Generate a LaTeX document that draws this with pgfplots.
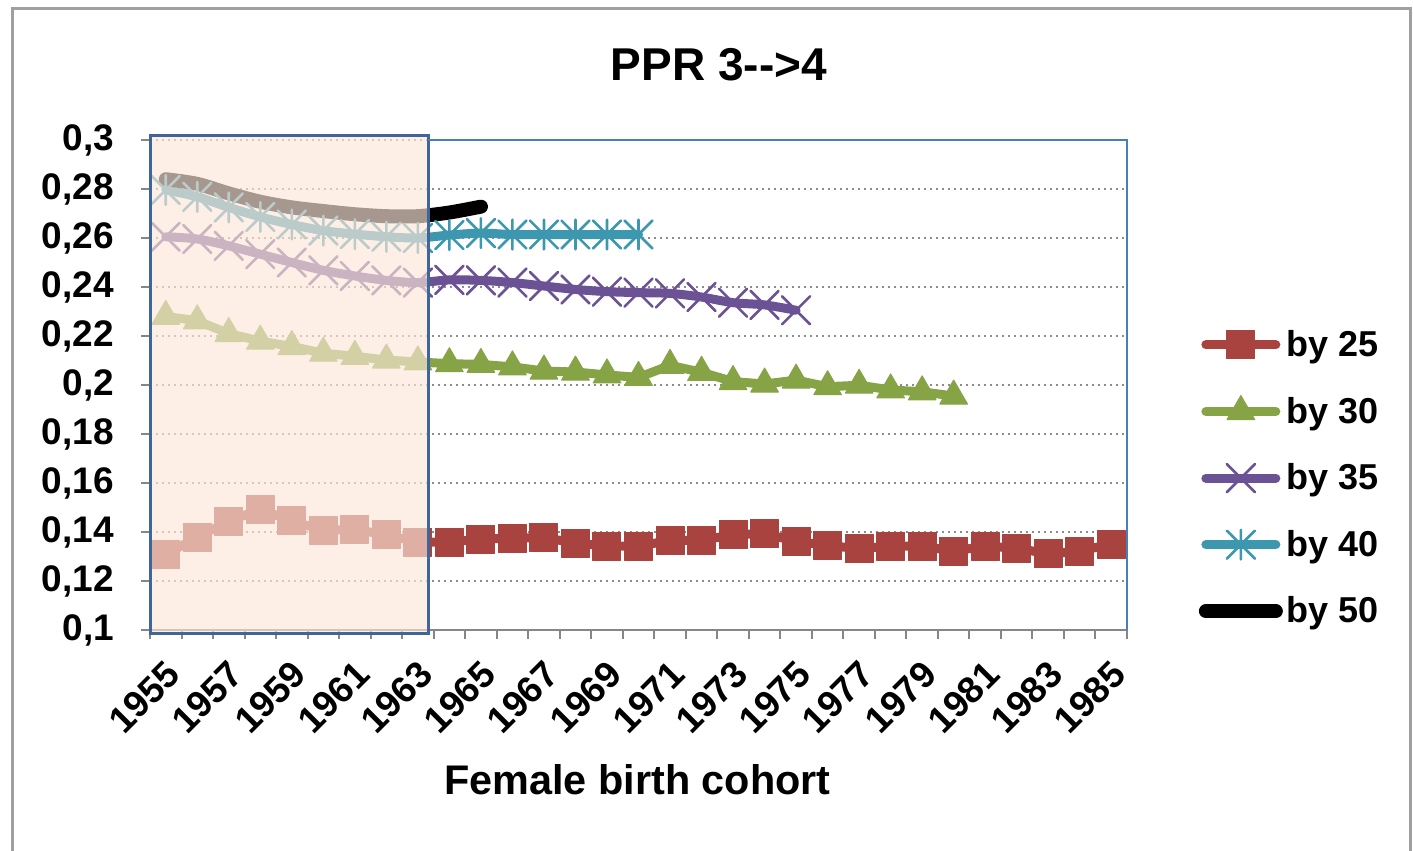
\documentclass[border=0pt]{standalone}
\usepackage{fontspec}
\setmainfont{Liberation Sans}
\usepackage{pgfplots}
\pgfplotsset{compat=1.18}
\definecolor{red25}{HTML}{A9433F}
\definecolor{green30}{HTML}{86A446}
\definecolor{purple35}{HTML}{6B5294}
\definecolor{teal40}{HTML}{3D97AF}
\definecolor{boxfill}{RGB}{252,231,217}
\definecolor{boxdraw}{HTML}{3E6698}
\definecolor{plotblue}{HTML}{4A7EBB}
\definecolor{gridgray}{HTML}{8C8C8C}
\definecolor{axisgray}{HTML}{868686}
\definecolor{framegray}{HTML}{A0A0A0}
\pgfdeclareplotmark{xstar}{%
  \pgfpathmoveto{\pgfqpoint{-.7071\pgfplotmarksize}{-.7071\pgfplotmarksize}}%
  \pgfpathlineto{\pgfqpoint{.7071\pgfplotmarksize}{.7071\pgfplotmarksize}}%
  \pgfpathmoveto{\pgfqpoint{-.7071\pgfplotmarksize}{.7071\pgfplotmarksize}}%
  \pgfpathlineto{\pgfqpoint{.7071\pgfplotmarksize}{-.7071\pgfplotmarksize}}%
  \pgfpathmoveto{\pgfqpoint{0pt}{-.75\pgfplotmarksize}}%
  \pgfpathlineto{\pgfqpoint{0pt}{.75\pgfplotmarksize}}%
  \pgfusepathqstroke}
\begin{document}
\begin{tikzpicture}
\useasboundingbox (0,0) rectangle (706.5pt,425.5pt);
\draw[framegray, line width=1.5pt] (6.25pt,0pt) -- (6.25pt,421pt) -- (705pt,421pt) -- (705pt,0pt);
\begin{axis}[
  at={(75pt,110.5pt)}, anchor=south west,
  scale only axis, width=488.5pt, height=245pt,
  xmin=1954.5, xmax=1985.5, ymin=0.1, ymax=0.3,
  clip=false,
  axis lines*=left,
  axis line style={axisgray, line width=1pt},
  xtick={1955,1957,1959,1961,1963,1965,1967,1969,1971,1973,1975,1977,1979,1981,1983,1985},
  xticklabels={1955,1957,1959,1961,1963,1965,1967,1969,1971,1973,1975,1977,1979,1981,1983,1985},
  major x tick style={draw=none},
  minor xtick={1954.5,1955.5,1956.5,1957.5,1958.5,1959.5,1960.5,1961.5,1962.5,1963.5,1964.5,1965.5,1966.5,1967.5,1968.5,1969.5,1970.5,1971.5,1972.5,1973.5,1974.5,1975.5,1976.5,1977.5,1978.5,1979.5,1980.5,1981.5,1982.5,1983.5,1984.5,1985.5},
  minor x tick style={axisgray, line width=1pt},
  ytick={0.1,0.12,0.14,0.16,0.18,0.2,0.22,0.24,0.26,0.28,0.3},
  yticklabels={{0,1},{0,12},{0,14},{0,16},{0,18},{0,2},{0,22},{0,24},{0,26},{0,28},{0,3}},
  major y tick style={axisgray, line width=1pt},
  tick align=outside,
  major tick length=4.5pt, minor tick length=4.5pt,
  ymajorgrids,
  major grid style={gridgray, line width=1pt, dash pattern=on 1.2pt off 1.8pt},
  yticklabel style={font=\fontsize{18.5}{19}\selectfont\bfseries, xshift=-10pt},
  xticklabel style={font=\fontsize{18.5}{19}\selectfont\bfseries, rotate=45, anchor=east, yshift=-13pt, xshift=-4pt},
  legend style={at={(1.067,0.31)}, anchor=west, draw=none, fill=none,
    font=\fontsize{18}{18}\selectfont\bfseries, row sep=14.75pt,
    nodes={inner sep=2pt}},
  legend cell align=left,
  legend image code/.code={\draw[mark repeat=2,mark phase=2,#1] plot coordinates {(0pt,0pt) (17.5pt,0pt) (35pt,0pt)};},
]
\addplot[red25, line width=4.5pt, line cap=round, line join=round, mark=square*, mark size=7pt, mark options={solid, fill=red25, draw=red25, line width=0.5pt, rounded corners=1pt}] coordinates {
(1955,0.1308) (1956,0.1379) (1957,0.1444) (1958,0.1493) (1959,0.1445) (1960,0.1407) (1961,0.1411) (1962,0.1388) (1963,0.1359) (1964,0.1359) (1965,0.1371) (1966,0.1375) (1967,0.1377) (1968,0.1355) (1969,0.1342) (1970,0.1342) (1971,0.1366) (1972,0.1366) (1973,0.1389) (1974,0.1393) (1975,0.1362) (1976,0.1345) (1977,0.1332) (1978,0.1342) (1979,0.1342) (1980,0.1322) (1981,0.1342) (1982,0.1334) (1983,0.1311) (1984,0.1322) (1985,0.1351)};
\addlegendentry{by 25}
\addplot[green30, line width=4.5pt, line cap=round, line join=round, mark=triangle*, mark size=8pt, mark options={solid, fill=green30, draw=green30, line width=0.5pt}] coordinates {
(1955,0.2280) (1956,0.2262) (1957,0.2210) (1958,0.2179) (1959,0.2157) (1960,0.2130) (1961,0.2117) (1962,0.2102) (1963,0.2094) (1964,0.2087) (1965,0.2084) (1966,0.2074) (1967,0.2057) (1968,0.2053) (1969,0.2041) (1970,0.2031) (1971,0.2080) (1972,0.2052) (1973,0.2014) (1974,0.2004) (1975,0.2020) (1976,0.1993) (1977,0.1999) (1978,0.1980) (1979,0.1972) (1980,0.1955)};
\addlegendentry{by 30}
\addplot[purple35, line width=4.5pt, line cap=round, smooth, mark=x, mark size=9.9pt, mark options={solid, line width=1.3pt}] coordinates {
(1955,0.2605) (1956,0.2596) (1957,0.2568) (1958,0.2534) (1959,0.2500) (1960,0.2468) (1961,0.2445) (1962,0.2427) (1963,0.2418) (1964,0.2429) (1965,0.2427) (1966,0.2418) (1967,0.2404) (1968,0.2390) (1969,0.2381) (1970,0.2377) (1971,0.2374) (1972,0.2359) (1973,0.2336) (1974,0.2327) (1975,0.2305)};
\addlegendentry{by 35}
\addplot[teal40, line width=4.5pt, line cap=round, smooth, mark=xstar, mark size=9.9pt, mark options={solid, line width=1.3pt}] coordinates {
(1955,0.2796) (1956,0.2768) (1957,0.2725) (1958,0.2686) (1959,0.2655) (1960,0.2630) (1961,0.2616) (1962,0.2605) (1963,0.2600) (1964,0.2612) (1965,0.2620) (1966,0.2614) (1967,0.2614) (1968,0.2614) (1969,0.2614) (1970,0.2614)};
\addlegendentry{by 40}
\addplot[black, line width=7pt, line cap=round, smooth, no marks] coordinates {
(1955,0.2840) (1956,0.2821) (1957,0.2782) (1958,0.2748) (1959,0.2725) (1960,0.2710) (1961,0.2697) (1962,0.2689) (1963,0.2689) (1964,0.2704) (1965,0.2728)};
\addlegendentry{by 50}
\coordinate (boxbl) at (axis cs:1954.5,0.0984);
\coordinate (boxtr) at (axis cs:1963.33,0.302);
\coordinate (boxtop) at (axis cs:1963.33,0.3);
\coordinate (plottr) at (axis cs:1985.5,0.3);
\coordinate (plotbr) at (axis cs:1985.5,0.1);
\end{axis}
\fill[boxfill, fill opacity=0.66] (boxbl) rectangle (boxtr);
\draw[boxdraw, line width=1.5pt] (boxbl) rectangle (boxtr);
\draw[plotblue, line width=1.2pt] (boxtop) -- (plottr) -- (plotbr);
\node[font=\fontsize{23}{23}\selectfont\bfseries] at (359.5pt,393pt) {PPR 3-\kern0pt-\kern0pt>4};
\node[font=\fontsize{20.7}{21}\selectfont\bfseries] at (318.75pt,35.5pt) {Female birth cohort};
\end{tikzpicture}
\end{document}
